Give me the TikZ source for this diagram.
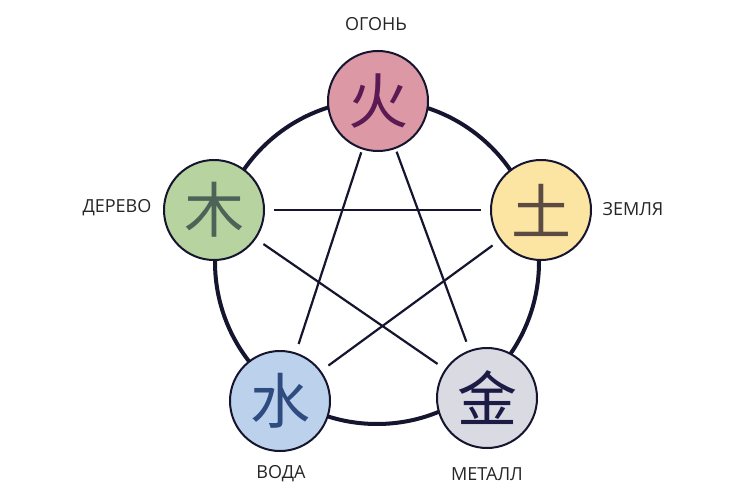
\documentclass[tikz,border=0pt]{standalone}
\usepackage{fontspec}
\setmainfont{Open Sans}
\newfontfamily\cjk{Noto Sans CJK SC}
\usepackage{tikz}

\definecolor{ring}{HTML}{15152F}
\definecolor{firebg}{HTML}{DC98A5}\definecolor{firech}{HTML}{5C1A55}
\definecolor{woodbg}{HTML}{B7D4A0}\definecolor{woodch}{HTML}{4E6358}
\definecolor{earthbg}{HTML}{FCE4A2}\definecolor{earthch}{HTML}{5B4B42}
\definecolor{waterbg}{HTML}{BCD2EC}\definecolor{waterch}{HTML}{2E4C80}
\definecolor{metalbg}{HTML}{DADAE2}\definecolor{metalch}{HTML}{1B1B45}

\begin{document}
\begin{tikzpicture}[x=1pt,y=-1pt,
    elem/.style = {draw=ring, line width=2pt, circle, minimum size=100pt, inner sep=0pt, outer sep=0pt, font=\cjk\fontsize{60}{60}\selectfont},
    elemname/.style = {text=black!85, font=\fontsize{18}{18}\selectfont},
    star/.style = {draw=ring, line width=2.2pt, shorten >=10pt, shorten <=10pt}]
            \useasboundingbox[fill=white] (0,0) rectangle (750,500);

            \draw[ring, line width=4pt] (377,262) circle (162);

            \node[elem, fill=firebg, text=firech](fire) at (378,101) {火};
            \node[elem, fill=woodbg, text=woodch](wood) at (214,210) {木};
            \node[elem, fill=earthbg, text=earthch](earth) at (541,210) {土};
            \node[elem, fill=waterbg, text=waterch](water) at (280,401) {水};
            \node[elem, fill=metalbg, text=metalch](metal) at (487,398) {金};

            \node[elemname](lfire) at (376,24) {ОГОНЬ};
            \node[elemname](lwood) at (117,208) {ДЕРЕВО};
            \node[elemname](learth) at (633,209) {ЗЕМЛЯ};
            \node[elemname](lwater) at (281,474) {ВОДА};
            \node[elemname](lmetal) at (487,474) {МЕТАЛЛ};

            \draw[star, shorten <=4pt] (fire) -- (water);\draw[star, shorten <=4pt] (fire) -- (metal);
            \draw[star] (wood) -- (earth);\draw[star] (wood) -- (metal);\draw[star] (earth) -- (water);
        \end{tikzpicture}
\end{document}
